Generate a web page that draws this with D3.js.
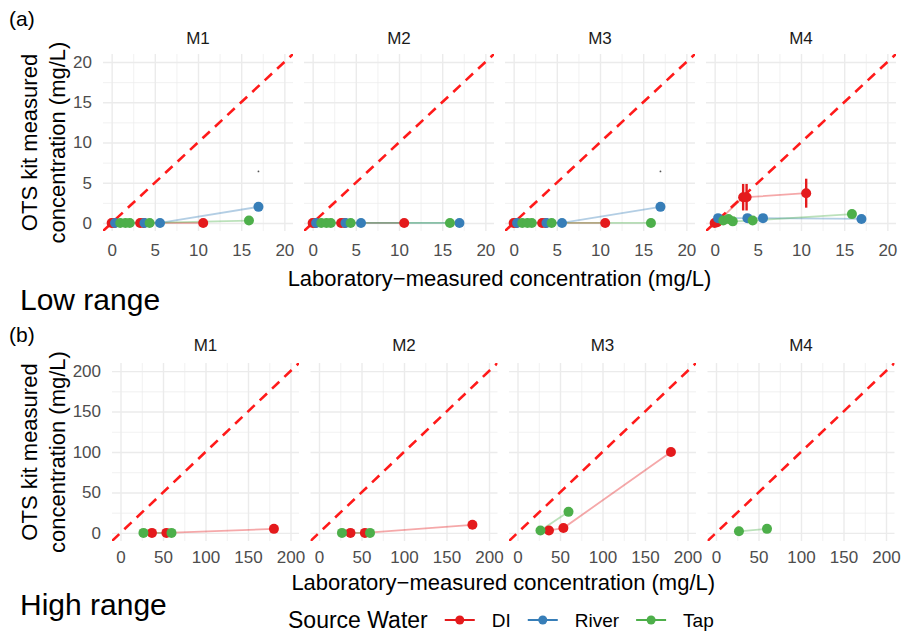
<!DOCTYPE html>
<html>
<head>
<meta charset="utf-8">
<script src="https://cdn.jsdelivr.net/npm/d3@7"></script>
<style>
body { margin: 0; background: #fff; }
svg { display: block; font-family: "Liberation Sans", Arial, sans-serif; }
</style>
</head>
<body>
<svg id="chart" width="903" height="633"></svg>
<script>
// facets and groups
var methods = ["M1", "M2", "M3", "M4"];
var sources = ["DI", "River", "Tap"];
var colors = ["#e41a1c", "#377eb8", "#4daf4a"];

// low range: laboratory-measured values (x) for each source water
var lowLabDI = [0, 0.3, 3.3, 3.7, 10.6];
var lowLabRiver = [0.4, 3.8, 5.6, 17.0];
var lowLabTap = [1.0, 1.6, 2.1, 4.4, 15.9];

// low range: OTS kit values (y), one row per method M1..M4
var lowKitDI = [
	[0, 0, 0, 0, 0],
	[0, 0, 0, 0, 0],
	[0, 0, 0, 0, 0],
	[0, 0.1, 3.2, 3.2, 3.7]
];
var lowKitRiver = [
	[0, 0, 0, 2.0],
	[0, 0, 0, 0],
	[0, 0, 0, 2.0],
	[0.6, 0.6, 0.6, 0.5]
];
var lowKitTap = [
	[0, 0, 0, 0, 0.3],
	[0, 0, 0, 0, 0],
	[0, 0, 0, 0, 0],
	[0.3, 0.5, 0.2, 0.3, 1.1]
];
// +/- spread of the kit values (only M4 DI has visible bars)
var lowErrDI = [null, null, null, [0, 0, 1.65, 1.65, 1.8]];
// tiny stray marks above the last River sample in M1 and M3
var lowSpeckRiver = [6.4, null, 6.4, null];

// high range
var highLabDI = [37, 54, 180.5];
var highLabTap = [27, 60];
var highKitDI = [[0, 0, 5], [0, 0, 10], [3, 6, 100], null];
var highKitTap = [[0, 0], [0, 0], [3, 26], [2, 5]];

var lowTicks = [0, 5, 10, 15, 20],
	lowMinor = [2.5, 7.5, 12.5, 17.5],
	highTicks = [0, 50, 100, 150, 200],
	highMinor = [25, 75, 125, 175];

var svg = d3.select("#chart");

// build the groups for one facet
var make_series = function(labs, kits, errs, m) {
	var out = [];
	labs.forEach(function(lab, s) {
		if (!lab || !kits[s] || !kits[s][m]) return;
		var pts = lab.map(function(v, k) {
			return {
				x: v,
				y: kits[s][m][k],
				err: errs[s] && errs[s][m] ? errs[s][m][k] : 0
			};
		});
		pts.sort(function(a, b) { return a.x - b.x; });
		out.push({ source: sources[s], color: colors[s], points: pts });
	});
	return out;
};

var draw_row = function(row) {
	var span = row.bottom - row.top;

	methods.forEach(function(m, i) {
		var left = row.left + i * row.step;
		var x = d3.scaleLinear().domain(row.domain).range([left, left + row.panelWidth]);
		var y = d3.scaleLinear().domain(row.domain).range([row.bottom, row.top]);
		var panel = svg.append("g").attr("id", row.name + "_" + m);

		var clipId = "clip_" + row.name + "_" + i;
		panel.append("clipPath").attr("id", clipId)
			.append("rect")
			.attr("x", left).attr("y", row.top)
			.attr("width", row.panelWidth).attr("height", span);

		// grid lines, minor then major
		[[row.minor, 0.7], [row.ticks, 1.4]].forEach(function(gs) {
			var gx = panel.append("g")
				.attr("transform", "translate(0," + row.bottom + ")")
				.call(d3.axisBottom(x).tickValues(gs[0]).tickSize(span).tickSizeOuter(0).tickFormat(""));
			gx.selectAll(".tick line").attr("y2", -span);
			var gy = panel.append("g")
				.attr("transform", "translate(" + left + ",0)")
				.call(d3.axisLeft(y).tickValues(gs[0]).tickSize(-row.panelWidth).tickSizeOuter(0).tickFormat(""));
			[gx, gy].forEach(function(a) {
				a.select(".domain").remove();
				a.selectAll(".tick line").style("stroke", "#ebebeb").style("stroke-width", gs[1]);
			});
		});

		var plot = panel.append("g").attr("clip-path", "url(#" + clipId + ")");

		// y = x reference
		plot.append("line")
			.attr("x1", x(row.domain[0])).attr("y1", y(row.domain[0]))
			.attr("x2", x(row.domain[1])).attr("y2", y(row.domain[1]))
			.style("stroke", "#ff1a1a")
			.style("stroke-width", 2.6)
			.style("stroke-dasharray", "10,7");

		var series = make_series(row.labs, row.kits, row.errs, i);

		var line = d3.line()
			.x(function(d) { return x(d.x); })
			.y(function(d) { return y(d.y); });

		series.forEach(function(s) {
			plot.append("path")
				.attr("d", line(s.points))
				.style("fill", "none")
				.style("stroke", s.color)
				.style("stroke-opacity", 0.38)
				.style("stroke-width", 1.8);
		});

		series.forEach(function(s) {
			plot.selectAll(null)
				.data(s.points.filter(function(d) { return d.err > 0; }))
				.enter()
				.append("line")
				.attr("x1", function(d) { return x(d.x); })
				.attr("x2", function(d) { return x(d.x); })
				.attr("y1", function(d) { return y(d.y - d.err); })
				.attr("y2", function(d) { return y(d.y + d.err); })
				.style("stroke", s.color)
				.style("stroke-width", 2.4);
		});

		series.forEach(function(s) {
			plot.selectAll(null)
				.data(s.points)
				.enter()
				.append("circle")
				.attr("cx", function(d) { return x(d.x); })
				.attr("cy", function(d) { return y(d.y); })
				.attr("r", 5)
				.style("fill", s.color);
		});

		if (row.speck && row.speck[i] != null) {
			plot.append("circle")
				.attr("cx", x(row.speckX))
				.attr("cy", y(row.speck[i]))
				.attr("r", 0.9)
				.style("fill", "#555");
		}

		// strip label
		panel.append("text")
			.attr("x", left + row.panelWidth / 2)
			.attr("y", row.stripY)
			.attr("dy", "0.35em")
			.attr("text-anchor", "middle")
			.style("font-size", "17px")
			.style("fill", "#1a1a1a")
			.text(m);

		// tick labels
		var ax = panel.append("g")
			.attr("transform", "translate(0," + row.bottom + ")")
			.call(d3.axisBottom(x).tickValues(row.ticks).tickSize(0).tickPadding(row.xPad));
		ax.select(".domain").remove();
		ax.selectAll("text").style("font-size", "17px").style("fill", "#4d4d4d")
			.style("font-family", "'Liberation Sans', Arial, sans-serif");

		if (i == 0) {
			var ay = panel.append("g")
				.attr("transform", "translate(" + left + ",0)")
				.call(d3.axisLeft(y).tickValues(row.ticks).tickSize(0).tickPadding(11));
			ay.select(".domain").remove();
			ay.selectAll("text").style("font-size", "17px").style("fill", "#4d4d4d")
				.style("font-family", "'Liberation Sans', Arial, sans-serif");
		}
	});

	// axis titles
	var lastRight = row.left + 3 * row.step + row.panelWidth;
	svg.append("text")
		.attr("x", (row.left + lastRight) / 2)
		.attr("y", row.xTitleY)
		.attr("dy", "0.35em")
		.attr("text-anchor", "middle")
		.style("font-size", "22px")
		.text("Laboratory\u2212measured concentration (mg/L)");

	var midY = (row.top + row.bottom) / 2;
	[["OTS kit measured", 29], ["concentration (mg/L)", 57]].forEach(function(t) {
		svg.append("text")
			.attr("transform", "translate(" + t[1] + "," + midY + ") rotate(-90)")
			.attr("dy", "0.35em")
			.attr("text-anchor", "middle")
			.style("font-size", "22px")
			.text(t[0]);
	});

	svg.append("text")
		.attr("x", 9).attr("y", row.tagY)
		.style("font-size", "21px")
		.text(row.tag);

	svg.append("text")
		.attr("x", row.rangeX).attr("y", row.rangeY)
		.style("font-size", "30px")
		.text(row.rangeLabel);
};

draw_row({
	name: "low",
	left: 103, step: 201, panelWidth: 190,
	top: 54, bottom: 231,
	domain: [-1, 21], ticks: lowTicks, minor: lowMinor,
	stripY: 38, xTitleY: 278, xPad: 13,
	labs: [lowLabDI, lowLabRiver, lowLabTap],
	kits: [lowKitDI, lowKitRiver, lowKitTap],
	errs: [lowErrDI, null, null],
	speck: lowSpeckRiver, speckX: lowLabRiver[3],
	tag: "(a)", tagY: 26,
	rangeLabel: "Low range", rangeX: 20, rangeY: 310
});

draw_row({
	name: "high",
	left: 112, step: 198.5, panelWidth: 187,
	top: 363, bottom: 541,
	domain: [-10, 210], ticks: highTicks, minor: highMinor,
	stripY: 345, xTitleY: 582, xPad: 10,
	labs: [highLabDI, null, highLabTap],
	kits: [highKitDI, null, highKitTap],
	errs: [null, null, null],
	tag: "(b)", tagY: 342,
	rangeLabel: "High range", rangeX: 20, rangeY: 615
});

// legend, laid out left to right from the title
var legend = svg.append("g").attr("id", "legend");
var lx = 288, ly = 620;
var title = legend.append("text")
	.attr("x", lx).attr("y", ly).attr("dy", "0.35em")
	.style("font-size", "23px")
	.text("Source Water");
lx += title.node().getComputedTextLength() + 17;

sources.forEach(function(s, k) {
	legend.append("line")
		.attr("x1", lx).attr("x2", lx + 30)
		.attr("y1", ly).attr("y2", ly)
		.style("stroke", colors[k])
		.style("stroke-width", 2);
	legend.append("circle")
		.attr("cx", lx + 15).attr("cy", ly).attr("r", 4.5)
		.style("fill", colors[k]);
	lx += 47;
	var t = legend.append("text")
		.attr("x", lx).attr("y", ly).attr("dy", "0.35em")
		.style("font-size", "19px")
		.text(s);
	lx += t.node().getComputedTextLength() + 17;
});
</script>
</body>
</html>
